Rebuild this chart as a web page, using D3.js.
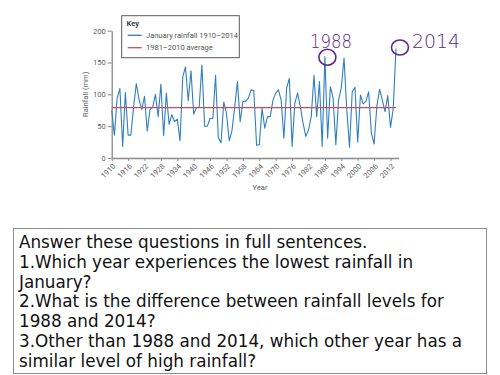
<!DOCTYPE html>
<html>
<head>
<meta charset="utf-8">
<script src="https://cdn.jsdelivr.net/npm/d3@7"></script>
<style>
  html, body { margin: 0; padding: 0; background: #fff; }
  svg { display: block; }
</style>
</head>
<body>
<script>
// ---------- data ----------
const firstYear = 1910;
const rainfall = [
  75, 36, 94, 109, 18, 103, 36, 36, 80, 117,      // 1910-1919
  92, 76, 97, 42, 76, 80, 100, 65, 116, 35,       // 1920-1929
  102, 53, 68, 57, 61, 27, 128, 143, 90, 137,     // 1930-1939
  69, 79, 80, 146, 50, 50, 62, 62, 130, 32,       // 1940-1949
  24, 88, 70, 27, 43, 80, 120, 57, 89, 89,        // 1950-1959
  94, 107, 106, 20, 21, 78, 47, 65, 65, 91,       // 1960-1969
  102, 107, 91, 31, 110, 125, 18, 86, 102, 81,    // 1970-1979
  55, 34, 44, 65, 130, 65, 120, 18, 159, 31,      // 1980-1989
  112, 94, 21, 91, 110, 157, 76, 17, 104, 111,    // 1990-1999
  25, 99, 85, 89, 104, 39, 22, 81, 108, 91,       // 2000-2009
  73, 98, 48, 78, 172                             // 2010-2014
];
const years = rainfall.map((_, i) => firstYear + i);
const averageValue = 79;
const averageYears = [1910, 2014];
const yTicks = [0, 50, 100, 150, 200];
const xTicks = [1910, 1916, 1922, 1928, 1934, 1940, 1946, 1952, 1958, 1964, 1970, 1976, 1982, 1988, 1994, 2000, 2006, 2012];
const legendLabels = ["January rainfall 1910\u20132014", "1981\u20132010 average"];
const annotatedYears = ["1988", "2014"];
const questionLines = [
  "Answer these questions in full sentences.",
  "1.Which year experiences the lowest rainfall in",
  "January?",
  "2.What is the difference between rainfall levels for",
  "1988 and 2014?",
  "3.Other than 1988 and 2014, which other year has a",
  "similar level of high rainfall?"
];

// ---------- drawing ----------
const W = 500, H = 375;
const svg = d3.select("body").append("svg").attr("width", W).attr("height", H);
svg.append("rect").attr("width", W).attr("height", H).attr("fill", "#fff");

const blue = "#2f7fc1", red = "#cc4b55", purple = "#5e2590";
const axisColor = "#8a8a8a", labelColor = "#5f5f5f";
const smallFont = "Roboto, 'Liberation Sans', sans-serif";

const x = d3.scaleLinear().domain([1910, 2015]).range([111.7, 398.7]);
const y = d3.scaleLinear().domain([0, 200]).range([158, 30.7]);

// y axis
const yAxisG = svg.append("g").attr("transform", `translate(${x(1910)},0)`)
  .call(d3.axisLeft(y).tickValues(yTicks).tickSize(4).tickSizeOuter(0).tickPadding(2));
// x axis
const xAxisG = svg.append("g").attr("transform", `translate(0,${y(0)})`)
  .call(d3.axisBottom(x).tickValues(xTicks).tickFormat(d3.format("d")).tickSize(3).tickSizeOuter(0));

[yAxisG, xAxisG].forEach(g => {
  g.select(".domain").attr("stroke", axisColor).attr("stroke-width", 1.3);
  g.selectAll(".tick line").attr("stroke", axisColor).attr("stroke-width", 1);
  g.selectAll("text").attr("fill", labelColor).style("font-family", smallFont).style("font-size", "7.5px");
});
xAxisG.selectAll(".tick text")
  .attr("text-anchor", "end")
  .attr("y", 0).attr("dy", "0.35em")
  .attr("transform", "translate(2,7) rotate(-45)");

// axis titles
svg.append("text")
  .attr("transform", `translate(88,${(y(0) + y(200)) / 2}) rotate(-90)`)
  .attr("text-anchor", "middle")
  .attr("fill", labelColor)
  .style("font-family", smallFont).style("font-size", "7.5px")
  .text("Rainfall (mm)");
svg.append("text")
  .attr("x", 260).attr("y", 190)
  .attr("text-anchor", "middle")
  .attr("fill", labelColor)
  .style("font-family", smallFont).style("font-size", "7.5px")
  .text("Year");

// rainfall line
const series = years.map((yr, i) => ({ year: yr, value: rainfall[i] }));
svg.append("path")
  .datum(series)
  .attr("fill", "none").attr("stroke", blue).attr("stroke-width", 1.1)
  .attr("stroke-linejoin", "round")
  .attr("d", d3.line().x(d => x(d.year)).y(d => y(d.value)));

// average line (drawn on top)
svg.append("path")
  .datum(averageYears)
  .attr("fill", "none").attr("stroke", red).attr("stroke-width", 1.2)
  .attr("d", d3.line().x(d => x(d)).y(() => y(averageValue)));

// legend
const lg = svg.append("g");
lg.append("rect").attr("x", 121.7).attr("y", 15.7).attr("width", 117.6).attr("height", 42)
  .attr("fill", "#fff").attr("stroke", "#5a5a5a").attr("stroke-width", 1);
lg.append("text").attr("x", 126.5).attr("y", 26)
  .attr("fill", "#444").style("font-family", smallFont).style("font-size", "7.5px")
  .style("font-weight", "bold").text("Key");
[blue, red].forEach((c, i) => {
  const ly = 35.3 + i * 12.4;
  lg.append("line").attr("x1", 127.7).attr("x2", 141.7).attr("y1", ly).attr("y2", ly)
    .attr("stroke", c).attr("stroke-width", 1.3);
  lg.append("text").attr("x", 146).attr("y", ly + 2.6)
    .attr("fill", "#555").style("font-family", smallFont).style("font-size", "7.5px")
    .text(legendLabels[i]);
});

// handwritten-style annotations
const annotate = [
  { year: 1988, value: rainfall[1988 - firstYear], label: annotatedYears[0], dx: 2.5, dy: 0.5, rx: 8.5, ry: 8, tx: 310, ty: 48, tlen: 42 },
  { year: 2014, value: rainfall[2014 - firstYear], label: annotatedYears[1], dx: 4, dy: -1, rx: 8.5, ry: 7.5, tx: 412, ty: 48, tlen: 48 }
];
annotate.forEach(a => {
  svg.append("ellipse")
    .attr("cx", x(a.year) + a.dx).attr("cy", y(a.value) + a.dy)
    .attr("rx", a.rx).attr("ry", a.ry)
    .attr("fill", "none").attr("stroke", purple).attr("stroke-width", 1.6);
  svg.append("text")
    .attr("x", a.tx).attr("y", a.ty)
    .attr("fill", purple)
    .attr("textLength", a.tlen).attr("lengthAdjust", "spacingAndGlyphs")
    .style("font-family", "'DejaVu Sans', sans-serif").style("font-size", "20px")
    .style("font-weight", "300")
    .text(a.label);
});

// question box
svg.append("rect").attr("x", 13.5).attr("y", 228.5).attr("width", 473).attr("height", 145)
  .attr("fill", "#fff").attr("stroke", "#8c8c8c").attr("stroke-width", 1);
svg.append("g").selectAll("text").data(questionLines).join("text")
  .attr("x", 19).attr("y", (d, i) => 248 + i * 19.8)
  .attr("fill", "#111")
  .style("font-family", "'DejaVu Sans', sans-serif").style("font-size", "16.8px")
  .text(d => d);
</script>
</body>
</html>
